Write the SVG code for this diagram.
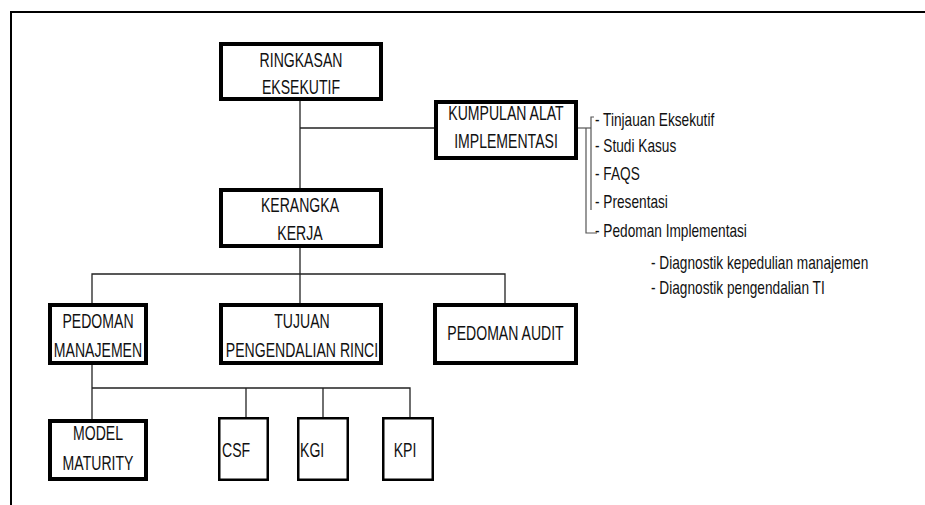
<svg xmlns="http://www.w3.org/2000/svg" width="925" height="505" viewBox="0 0 925 505">
<style>
.frame{stroke:#000;stroke-width:2;fill:none}
.box{fill:#fff;stroke:#000;stroke-width:4}
.sbox{fill:#fff;stroke:#000;stroke-width:2.5}
.con{fill:none;stroke:#222;stroke-width:1.3}
.br{fill:none;stroke:#555;stroke-width:1.2}
.t{font-family:"Liberation Sans",Arial,sans-serif;font-size:21px;fill:#111;text-anchor:middle}
.l{font-family:"Liberation Sans",Arial,sans-serif;font-size:18px;fill:#111}
</style>
<rect width="925" height="505" fill="#fff"/>
<path class="frame" d="M11,505 V12 H925"/>
<g id="connectors">
<path class="con" d="M300,101 V188"/>
<path class="con" d="M300,128 H434"/>
<path class="con" d="M300,248 V303"/>
<path class="con" d="M92,303 V274 H505 V303"/>
<path class="con" d="M92,365 V419"/>
<path class="con" d="M92,388 H410 V417"/>
<path class="con" d="M246,388 V417"/>
<path class="con" d="M323,388 V417"/>
<path class="br" d="M578,128 H591"/>
<path class="br" d="M586,128 V233 H597"/>
<path class="br" d="M591,210 V117 H594"/>
</g>
<g id="ringkasan">
<rect class="box" x="221" y="44" width="160" height="55"/>
<text class="t" transform="translate(301,67) scale(0.67,1)">RINGKASAN</text>
<text class="t" transform="translate(301,94) scale(0.67,1)">EKSEKUTIF</text>
</g>
<g id="kumpulan">
<rect class="box" x="436" y="102" width="140" height="56"/>
<text class="t" transform="translate(506,120) scale(0.67,1)">KUMPULAN ALAT</text>
<text class="t" transform="translate(506,148) scale(0.67,1)">IMPLEMENTASI</text>
</g>
<g id="kerangka">
<rect class="box" x="221" y="190" width="160" height="56"/>
<text class="t" transform="translate(300,212) scale(0.67,1)">KERANGKA</text>
<text class="t" transform="translate(300,240) scale(0.67,1)">KERJA</text>
</g>
<g id="pedoman-manajemen">
<rect class="box" x="50" y="305" width="96" height="58"/>
<text class="t" transform="translate(98,328) scale(0.67,1)">PEDOMAN</text>
<text class="t" transform="translate(98,357) scale(0.67,1)">MANAJEMEN</text>
</g>
<g id="tujuan">
<rect class="box" x="221" y="305" width="160" height="58"/>
<text class="t" transform="translate(302,328) scale(0.67,1)">TUJUAN</text>
<text class="t" transform="translate(302,357) scale(0.67,1)">PENGENDALIAN RINCI</text>
</g>
<g id="pedoman-audit">
<rect class="box" x="435" y="305" width="141" height="58"/>
<text class="t" transform="translate(505.5,340) scale(0.67,1)">PEDOMAN AUDIT</text>
</g>
<g id="model-maturity">
<rect class="box" x="50" y="421" width="96" height="58"/>
<text class="t" transform="translate(98,440) scale(0.67,1)">MODEL</text>
<text class="t" transform="translate(98,470) scale(0.67,1)">MATURITY</text>
</g>
<g id="csf">
<rect class="sbox" x="219.25" y="418.25" width="48.5" height="61.5"/>
<text class="t" style="text-anchor:start" transform="translate(222,457) scale(0.67,1)">CSF</text>
</g>
<g id="kgi">
<rect class="sbox" x="298.25" y="418.25" width="49.5" height="61.5"/>
<text class="t" style="text-anchor:start" transform="translate(300,457) scale(0.67,1)">KGI</text>
</g>
<g id="kpi">
<rect class="sbox" x="383.25" y="418.25" width="49.5" height="61.5"/>
<text class="t" transform="translate(405,457) scale(0.67,1)">KPI</text>
</g>
<g id="list">
<text class="l" transform="translate(595,125.5) scale(0.76,1)">- Tinjauan Eksekutif</text>
<text class="l" transform="translate(595,151.5) scale(0.76,1)">- Studi Kasus</text>
<text class="l" transform="translate(595,180) scale(0.76,1)">- FAQS</text>
<text class="l" transform="translate(595,208) scale(0.76,1)">- Presentasi</text>
<text class="l" transform="translate(595,237) scale(0.76,1)">- Pedoman Implementasi</text>
<text class="l" transform="translate(651,269) scale(0.76,1)">- Diagnostik kepedulian manajemen</text>
<text class="l" transform="translate(651,294) scale(0.76,1)">- Diagnostik pengendalian TI</text>
</g>
</svg>
